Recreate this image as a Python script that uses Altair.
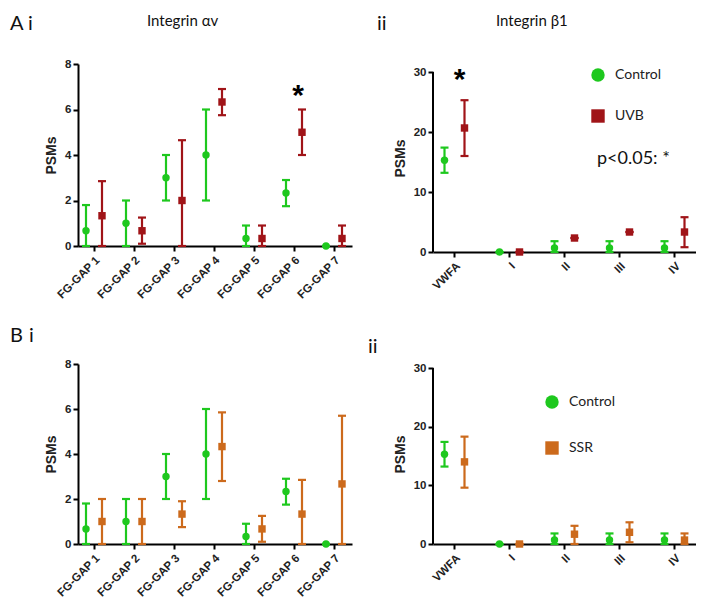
import altair as alt
import pandas as pd

# ---------------- data ----------------
cats_fg = ["FG-GAP 1", "FG-GAP 2", "FG-GAP 3", "FG-GAP 4", "FG-GAP 5", "FG-GAP 6", "FG-GAP 7"]
ctrl_fg_mean = [0.67, 1.0, 3.0, 4.0, 0.33, 2.33, 0.0]
ctrl_fg_lo = [0.0, 0.0, 2.0, 2.0, 0.0, 1.75, 0.0]
ctrl_fg_hi = [1.8, 2.0, 4.0, 6.0, 0.9, 2.9, 0.0]
uvb_fg_mean = [1.33, 0.67, 2.0, 6.33, 0.33, 5.0, 0.33]
uvb_fg_lo = [0.0, 0.1, 0.0, 5.75, 0.0, 4.0, 0.0]
uvb_fg_hi = [2.85, 1.25, 4.65, 6.9, 0.9, 6.0, 0.9]
ssr_fg_mean = [1.0, 1.0, 1.33, 4.33, 0.67, 1.33, 2.67]
ssr_fg_lo = [0.0, 0.0, 0.75, 2.8, 0.1, 0.0, 0.0]
ssr_fg_hi = [2.0, 2.0, 1.9, 5.85, 1.25, 2.85, 5.7]

cats_b1 = ["VWFA", "I", "II", "III", "IV"]
ctrl_b1_mean = [15.3, 0.0, 0.67, 0.67, 0.67]
ctrl_b1_lo = [13.2, 0.0, 0.0, 0.0, 0.0]
ctrl_b1_hi = [17.4, 0.0, 1.8, 1.8, 1.8]
uvb_b1_mean = [20.67, 0.0, 2.33, 3.33, 3.33]
uvb_b1_lo = [16.0, 0.0, 2.33, 3.33, 0.8]
uvb_b1_hi = [25.3, 0.0, 2.33, 3.33, 5.8]
ssr_b1_mean = [14.0, 0.0, 1.67, 2.0, 0.67]
ssr_b1_lo = [9.6, 0.0, 0.0, 0.3, 0.0]
ssr_b1_hi = [18.3, 0.0, 3.1, 3.7, 1.8]

groups_uvb = ["Control", "UVB"]
groups_ssr = ["Control", "SSR"]
colors_uvb = ["#1ec81e", "#a01418"]
colors_ssr = ["#1ec81e", "#cc6a1c"]

yticks_fg = [0, 2, 4, 6, 8]
yticks_b1 = [0, 10, 20, 30]

HEAD_FONT = "Lato"
AX_FONT = "Liberation Sans"


def text_layer(s, x, y, size, weight="normal", baseline="alphabetic", font=HEAD_FONT):
    return alt.Chart(pd.DataFrame({"t": [s]})).mark_text(
        align="left", baseline=baseline, font=font, fontSize=size,
        fontWeight=weight, color="#111"
    ).encode(x=alt.value(x), y=alt.value(y), text="t:N")


def panel(cats, groups, colors, series, ymax, yticks, width, height,
          pi, po, align, off, legend=None, own_domain=False, extras=()):
    x = alt.X("cat:N", sort=cats,
              scale=alt.Scale(domain=cats, paddingInner=pi, paddingOuter=po, align=align),
              axis=alt.Axis(title=None, labelAngle=-45, labelPadding=3))
    ysc = alt.Scale(domain=[0, ymax], nice=False, zero=True)
    yax = alt.Axis(title="PSMs", values=yticks, domain=not own_domain)
    col = alt.Color("grp:N", scale=alt.Scale(domain=groups, range=colors), legend=legend)
    shp = alt.Shape("grp:N", scale=alt.Scale(domain=groups, range=["circle", "square"]),
                    legend=legend)

    layers = []
    for k, (g, (m, lo, hi)) in enumerate(zip(groups, series)):
        df = pd.DataFrame({"cat": cats, "grp": [g] * len(cats), "mean": m, "lo": lo, "hi": hi})
        base = alt.Chart(df)
        o = -off if k == 0 else off
        layers.append(base.mark_rule(strokeWidth=2.2, xOffset=o).encode(
            x=x, y=alt.Y("lo:Q", scale=ysc, axis=yax), y2="hi:Q", color=col))
        layers.append(base.mark_tick(size=8, thickness=2.2, opacity=1, xOffset=o).encode(
            x=x, y=alt.Y("lo:Q", scale=ysc, axis=yax), color=col))
        layers.append(base.mark_tick(size=8, thickness=2.2, opacity=1, xOffset=o).encode(
            x=x, y=alt.Y("hi:Q", scale=ysc, axis=yax), color=col))
    for k, (g, (m, lo, hi)) in enumerate(zip(groups, series)):
        df = pd.DataFrame({"cat": cats, "grp": [g] * len(cats), "mean": m})
        o = -off if k == 0 else off
        layers.append(alt.Chart(df).mark_point(filled=True, opacity=1, size=55, xOffset=o).encode(
            x=x, y=alt.Y("mean:Q", scale=ysc, axis=yax), color=col, shape=shp))

    if own_domain:
        dom = alt.Chart(pd.DataFrame({"a": [yticks[0]], "b": [yticks[-1]]})).mark_rule(
            color="black", strokeWidth=2).encode(
            x=alt.value(0), y=alt.Y("a:Q", scale=ysc, axis=yax), y2="b:Q")
        layers.append(dom)
    layers.extend(extras)
    return alt.layer(*layers).properties(width=width, height=height)


def legend_spec(lx, ly, rowpad):
    return alt.Legend(orient="none", legendX=lx, legendY=ly, title=None,
                      symbolSize=180, rowPadding=rowpad, labelOffset=10,
                      labelFont=HEAD_FONT, labelFontSize=14, labelColor="#222",
                      padding=0, symbolStrokeWidth=0, symbolOpacity=1)


# asterisks
star_tl = alt.Chart(pd.DataFrame({"cat": ["FG-GAP 6"], "v": [6.9], "s": ["*"]})).mark_text(
    fontSize=30, fontWeight="bold", font=AX_FONT, dx=4, dy=7, color="#000").encode(
    x=alt.X("cat:N", sort=cats_fg), y=alt.Y("v:Q"), text="s:N")
star_tr = alt.Chart(pd.DataFrame({"cat": ["VWFA"], "v": [29.8], "s": ["*"]})).mark_text(
    fontSize=30, fontWeight="bold", font=AX_FONT, dx=5, dy=7, color="#000").encode(
    x=alt.X("cat:N", sort=cats_b1), y=alt.Y("v:Q"), text="s:N")

tl = panel(cats_fg, groups_uvb, colors_uvb,
           [(ctrl_fg_mean, ctrl_fg_lo, ctrl_fg_hi), (uvb_fg_mean, uvb_fg_lo, uvb_fg_hi)],
           8, yticks_fg, 274, 182, 0.4, 0.125, 0.4, 8,
           extras=[star_tl,
                   text_layer("A", -68, -34, 20),
                   text_layer("i", -50, -34, 20),
                   text_layer("Integrin  \u03b1v", 69, -38, 15)])

tr = panel(cats_b1, groups_uvb, colors_uvb,
           [(ctrl_b1_mean, ctrl_b1_lo, ctrl_b1_hi), (uvb_b1_mean, uvb_b1_lo, uvb_b1_hi)],
           30 * 188 / 180, yticks_b1, 263, 188, 0.5455, 0.1636, 0.5, 10,
           legend=legend_spec(158, 4, 27), own_domain=True,
           extras=[star_tr,
                   text_layer("ii", -56, -34, 20),
                   text_layer("Integrin  \u03b21", 63, -38, 15),
                   text_layer("p<0.05: *", 164, 100, 18)])

bl = panel(cats_fg, groups_ssr, colors_ssr,
           [(ctrl_fg_mean, ctrl_fg_lo, ctrl_fg_hi), (ssr_fg_mean, ssr_fg_lo, ssr_fg_hi)],
           8, yticks_fg, 274, 180, 0.4, 0.125, 0.4, 8,
           extras=[text_layer("B", -68, -22, 20),
                   text_layer("i", -49, -22, 20)])

br = panel(cats_b1, groups_ssr, colors_ssr,
           [(ctrl_b1_mean, ctrl_b1_lo, ctrl_b1_hi), (ssr_b1_mean, ssr_b1_lo, ssr_b1_hi)],
           30 * 180 / 176, yticks_b1, 263, 180, 0.5455, 0.1636, 0.5, 10,
           legend=legend_spec(112, 31, 32), own_domain=True,
           extras=[text_layer("ii", -65, -11, 20)])

chart = alt.concat(tl, tr, bl, br, columns=2, spacing=alt.RowColnumber(row=112, column=81),
                   bounds="flush").resolve_scale(
    color="independent", shape="independent"
).properties(
    autosize=alt.AutoSizeParams(type="none"),
    padding={"left": 70, "top": 56, "right": 618, "bottom": 535},
).configure_view(stroke=None).configure_axis(
    labelFont=AX_FONT, labelFontWeight="bold", labelFontSize=11.5, labelColor="#222",
    titleFont=AX_FONT, titleFontWeight="bold", titleFontSize=14, titleColor="#222",
    titlePadding=6, domainColor="#000", domainWidth=2, tickColor="#000", tickWidth=2,
    tickSize=5, grid=False
)

chart.save("out.html", embed_options={"renderer": "svg", "actions": False})
